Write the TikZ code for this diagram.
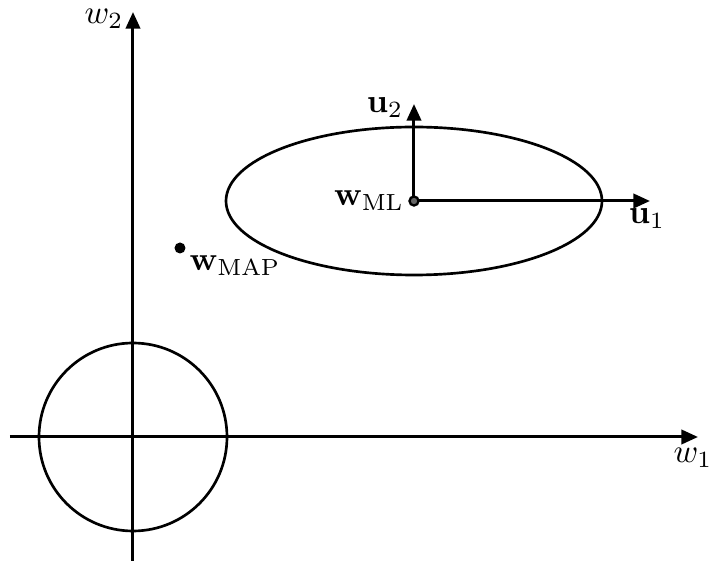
\documentclass[tikz,border=0pt]{standalone}
\usetikzlibrary{arrows.meta}
\tikzset{
  axis/.style={line width=0.9pt,-{Triangle[length=5pt,width=4.3pt]}},
  curve/.style={line width=0.8pt},
  lbl/.style={inner sep=0pt}
}
\begin{document}
\begin{tikzpicture}[x=0.3pt,y=-0.3pt]
\useasboundingbox (0,0) rectangle (719,563);
% coordinates
\coordinate (O) at (133,437);
\coordinate (xl) at (10,437);
\coordinate (xr) at (698,437);
\coordinate (yb) at (133,561);
\coordinate (yt) at (133,12);
\coordinate (ML) at (414,201);
\coordinate (u1tip) at (650,201);
\coordinate (u2tip) at (414,104);
\coordinate (MAP) at (180,248);
% axes
\draw[axis] (xl) -- (xr);
\draw[axis] (yb) -- (yt);
% prior circle
\draw[curve] (O) circle[radius=94];
% likelihood ellipse
\draw[curve] (ML) ellipse[x radius=188, y radius=74];
% eigenvectors
\draw[axis] (ML) -- (u1tip);
\draw[axis] (ML) -- (u2tip);
% points
\fill (MAP) circle[radius=5.5];
\filldraw[fill=gray!80!black, line width=0.7pt] (ML) circle[radius=4.5];
% labels
\node[lbl] (lw2) at (104,19) {$w_2$};
\node[lbl] (lw1) at (693,458) {$w_1$};
\node[lbl] (lu1) at (647,219) {$\mathbf{u}_1$};
\node[lbl] (lu2) at (385,108) {$\mathbf{u}_2$};
\node[lbl] (lML) at (369,201) {$\mathbf{w}_{\mathrm{ML}}$};
\node[lbl,anchor=west] (lMAP) at (189,266) {$\mathbf{w}_{\mathrm{MAP}}$};
\end{tikzpicture}
\end{document}
